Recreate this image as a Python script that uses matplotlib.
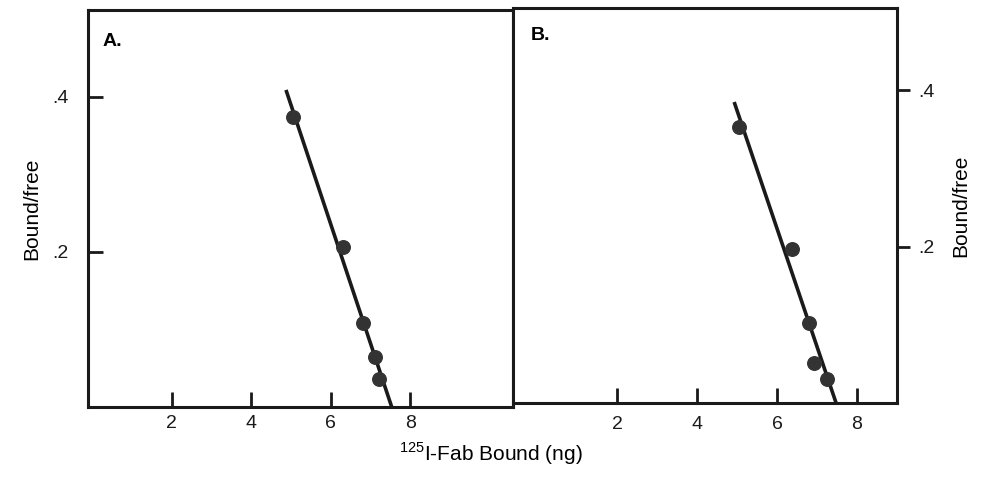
import matplotlib.pyplot as plt

plt.rcParams['font.family'] = ['Liberation Sans', 'DejaVu Sans']

# panel A: Scatchard points and fitted line
a_x = [5.04, 6.30, 6.80, 7.11, 7.21]
a_y = [0.374, 0.206, 0.109, 0.064, 0.036]
a_line_x = [4.87, 7.53]
a_line_y = [0.409, 0.0]

# panel B
b_x = [5.05, 6.37, 6.80, 6.93, 7.25]
b_y = [0.353, 0.197, 0.102, 0.052, 0.031]
b_line_x = [4.93, 7.48]
b_line_y = [0.385, 0.0]

x_ticks = [2, 4, 6, 8]
y_ticks = [0.2, 0.4]
y_ticklabels = ['.2', '.4']

fig = plt.figure(figsize=(9.82, 4.8), dpi=100)
axA = fig.add_axes([0.0896, 0.152, 0.4328, 0.827])
axB = fig.add_axes([0.5224, 0.160, 0.391, 0.823])

dark = '#1a1a1a'
for ax, xs, ys, lx, ly, xlim, ylim in [
        (axA, a_x, a_y, a_line_x, a_line_y, (-0.11, 10.58), (0, 0.512)),
        (axB, b_x, b_y, b_line_x, b_line_y, (-0.6, 9.0), (0, 0.505))]:
    ax.plot(lx, ly, color=dark, lw=2.6, solid_capstyle='butt')
    ax.scatter(xs, ys, s=95, color='#333333', zorder=3)
    ax.set_xlim(*xlim)
    ax.set_ylim(*ylim)
    ax.set_xticks(x_ticks)
    ax.set_xticklabels([str(t) for t in x_ticks])
    ax.set_yticks(y_ticks)
    ax.set_yticklabels(y_ticklabels)
    ax.tick_params(direction='in', length=11, width=2, labelsize=14, colors=dark, pad=10)
    for sp in ax.spines.values():
        sp.set_linewidth(2.2)
        sp.set_color(dark)

axB.yaxis.tick_right()
axB.tick_params(axis='y', direction='out', length=9, pad=6)
axA.tick_params(axis='y', pad=14)
axA.tick_params(axis='x', pad=6)
axB.tick_params(axis='x', pad=9)

axA.set_ylabel('Bound/free', fontsize=15, labelpad=8)
axB.yaxis.set_label_position('right')
axB.set_ylabel('Bound/free', fontsize=15, labelpad=12)

axA.text(0.035, 0.92, 'A.', transform=axA.transAxes, fontsize=14, fontweight='bold', va='center')
axB.text(0.045, 0.93, 'B.', transform=axB.transAxes, fontsize=14, fontweight='bold', va='center')

fig.text(0.50, 0.055, r'$^{\mathregular{125}}$I-Fab Bound (ng)', fontsize=15, ha='center', va='center')

plt.savefig('out.png', dpi=100)
